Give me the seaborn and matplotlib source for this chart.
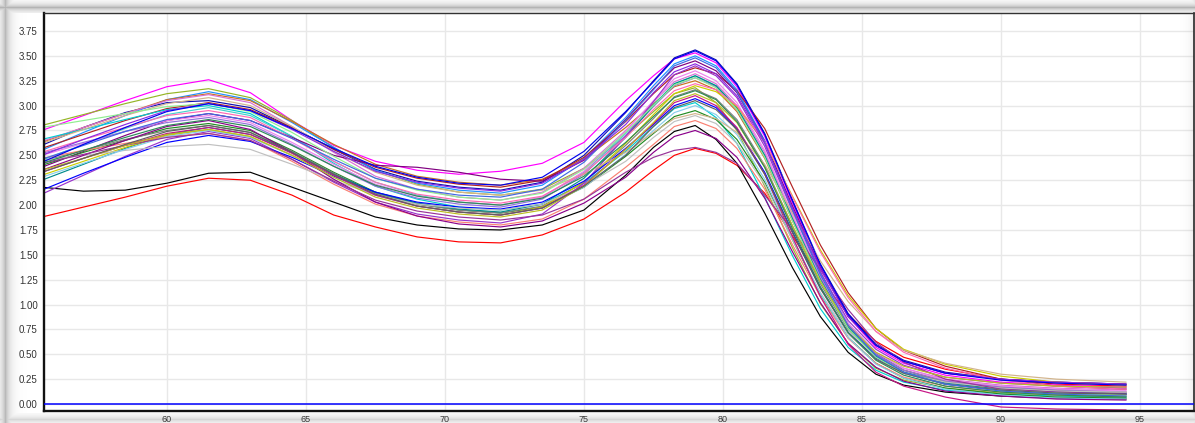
import numpy as np
import pandas as pd
import matplotlib
matplotlib.use("Agg")
import matplotlib.pyplot as plt
import seaborn as sns

# ---------------- data ----------------
temps = [55.5, 57, 58.5, 60, 61.5, 63, 64.5, 66, 67.5, 69, 70.5, 72, 73.5, 75, 76.5,
         77.5, 78.25, 79, 79.75, 80.5, 81.5, 82.5, 83.5, 84.5, 85.5, 86.5, 88, 90, 92, 94.5]

s_red = [1.88, 1.98, 2.08, 2.19, 2.27, 2.25, 2.10, 1.90, 1.78, 1.68, 1.63, 1.62, 1.70, 1.86, 2.13, 2.35, 2.50, 2.57, 2.52, 2.40, 2.12, 1.69, 1.26, 0.90, 0.63, 0.47, 0.35, 0.25, 0.20, 0.18]
s_black = [2.18, 2.14, 2.15, 2.22, 2.32, 2.33, 2.18, 2.03, 1.88, 1.80, 1.76, 1.75, 1.80, 1.95, 2.30, 2.58, 2.74, 2.80, 2.66, 2.42, 1.92, 1.37, 0.88, 0.52, 0.30, 0.19, 0.12, 0.08, 0.06, 0.05]
s_magenta = [2.75, 2.90, 3.05, 3.19, 3.26, 3.13, 2.85, 2.60, 2.44, 2.35, 2.31, 2.34, 2.42, 2.63, 3.05, 3.30, 3.47, 3.53, 3.43, 3.19, 2.69, 2.02, 1.38, 0.88, 0.57, 0.41, 0.29, 0.22, 0.19, 0.17]
s_olive = [2.80, 2.91, 3.02, 3.12, 3.17, 3.08, 2.85, 2.58, 2.35, 2.21, 2.13, 2.10, 2.16, 2.37, 2.69, 2.94, 3.12, 3.18, 3.03, 2.75, 2.19, 1.57, 1.01, 0.61, 0.36, 0.24, 0.16, 0.11, 0.09, 0.08]
s_darkblue = [2.60, 2.78, 2.93, 3.03, 3.05, 2.98, 2.78, 2.56, 2.36, 2.24, 2.18, 2.15, 2.23, 2.50, 2.93, 3.25, 3.48, 3.56, 3.46, 3.22, 2.72, 2.05, 1.41, 0.91, 0.60, 0.44, 0.32, 0.25, 0.22, 0.20]
s_dodger = [2.55, 2.73, 2.90, 3.06, 3.14, 3.06, 2.83, 2.58, 2.35, 2.22, 2.15, 2.12, 2.20, 2.47, 2.88, 3.20, 3.42, 3.50, 3.40, 3.16, 2.65, 1.97, 1.32, 0.81, 0.51, 0.34, 0.22, 0.15, 0.12, 0.10]
s_choco = [2.63, 2.78, 2.92, 3.06, 3.12, 3.05, 2.84, 2.61, 2.41, 2.29, 2.23, 2.20, 2.26, 2.46, 2.78, 3.02, 3.19, 3.25, 3.16, 2.94, 2.47, 1.84, 1.25, 0.78, 0.50, 0.34, 0.23, 0.17, 0.14, 0.12]
s_orchid = [2.64, 2.78, 2.92, 3.05, 3.11, 3.03, 2.79, 2.53, 2.29, 2.16, 2.08, 2.05, 2.13, 2.37, 2.75, 3.04, 3.24, 3.32, 3.22, 3.00, 2.53, 1.89, 1.28, 0.81, 0.52, 0.36, 0.25, 0.19, 0.16, 0.14]
s_firebrick = [2.57, 2.71, 2.85, 2.97, 3.03, 2.96, 2.78, 2.56, 2.38, 2.27, 2.21, 2.18, 2.25, 2.48, 2.84, 3.12, 3.31, 3.38, 3.32, 3.15, 2.77, 2.18, 1.60, 1.12, 0.76, 0.54, 0.38, 0.25, 0.18, 0.15]
s_turq = [2.66, 2.76, 2.86, 2.96, 3.00, 2.92, 2.69, 2.42, 2.19, 2.06, 1.98, 1.95, 2.01, 2.22, 2.54, 2.79, 2.97, 3.03, 2.88, 2.62, 2.08, 1.49, 0.96, 0.57, 0.34, 0.22, 0.14, 0.10, 0.08, 0.07]
s_medturq = [2.45, 2.61, 2.77, 2.91, 2.98, 2.90, 2.69, 2.44, 2.23, 2.10, 2.03, 2.00, 2.08, 2.33, 2.72, 3.01, 3.22, 3.30, 3.20, 2.98, 2.50, 1.86, 1.25, 0.76, 0.48, 0.31, 0.20, 0.14, 0.11, 0.09]
s_purple = [2.38, 2.54, 2.70, 2.85, 2.92, 2.85, 2.68, 2.50, 2.40, 2.38, 2.33, 2.26, 2.24, 2.45, 2.86, 3.17, 3.38, 3.45, 3.35, 3.13, 2.64, 1.99, 1.37, 0.88, 0.59, 0.43, 0.31, 0.25, 0.22, 0.20]
s_violet = [2.50, 2.62, 2.74, 2.85, 2.90, 2.83, 2.63, 2.41, 2.21, 2.09, 2.03, 2.00, 2.08, 2.34, 2.74, 3.05, 3.27, 3.35, 3.25, 3.03, 2.55, 1.90, 1.29, 0.81, 0.52, 0.36, 0.24, 0.18, 0.15, 0.13]
s_medpurple = [2.52, 2.63, 2.74, 2.83, 2.88, 2.81, 2.61, 2.39, 2.19, 2.07, 2.01, 1.98, 2.06, 2.31, 2.70, 2.99, 3.20, 3.28, 3.19, 2.96, 2.49, 1.86, 1.26, 0.78, 0.50, 0.34, 0.23, 0.17, 0.14, 0.12]
s_green = [2.40, 2.53, 2.65, 2.77, 2.82, 2.75, 2.55, 2.33, 2.13, 2.01, 1.95, 1.92, 1.98, 2.18, 2.49, 2.72, 2.89, 2.95, 2.86, 2.66, 2.23, 1.65, 1.10, 0.67, 0.41, 0.26, 0.16, 0.10, 0.07, 0.06]
s_gray = [2.44, 2.55, 2.66, 2.75, 2.80, 2.73, 2.54, 2.32, 2.12, 2.01, 1.95, 1.92, 1.99, 2.23, 2.60, 2.87, 3.09, 3.16, 3.07, 2.86, 2.40, 1.79, 1.21, 0.75, 0.48, 0.32, 0.22, 0.16, 0.13, 0.11]
s_teal = [2.25, 2.41, 2.57, 2.71, 2.78, 2.71, 2.53, 2.31, 2.13, 2.02, 1.96, 1.93, 2.01, 2.27, 2.68, 3.00, 3.22, 3.30, 3.20, 2.98, 2.50, 1.86, 1.25, 0.77, 0.48, 0.32, 0.21, 0.15, 0.12, 0.10]
s_yellow = [2.30, 2.44, 2.58, 2.70, 2.76, 2.69, 2.50, 2.29, 2.10, 1.99, 1.93, 1.90, 1.98, 2.23, 2.62, 2.91, 3.12, 3.20, 3.14, 2.99, 2.63, 2.09, 1.55, 1.09, 0.76, 0.55, 0.40, 0.28, 0.22, 0.19]
s_darkorchid = [2.11, 2.30, 2.49, 2.66, 2.74, 2.67, 2.46, 2.23, 2.03, 1.91, 1.85, 1.82, 1.91, 2.22, 2.69, 3.04, 3.31, 3.40, 3.30, 3.08, 2.59, 1.94, 1.33, 0.84, 0.55, 0.39, 0.27, 0.21, 0.18, 0.16]
s_salmon = [2.47, 2.55, 2.62, 2.69, 2.72, 2.65, 2.44, 2.21, 2.01, 1.89, 1.83, 1.80, 1.86, 2.06, 2.38, 2.61, 2.79, 2.85, 2.77, 2.57, 2.16, 1.60, 1.08, 0.66, 0.41, 0.27, 0.18, 0.12, 0.09, 0.08]
s_blue = [2.15, 2.32, 2.48, 2.63, 2.70, 2.64, 2.48, 2.29, 2.13, 2.03, 1.98, 1.96, 2.03, 2.24, 2.57, 2.81, 3.00, 3.07, 2.98, 2.77, 2.33, 1.73, 1.17, 0.72, 0.46, 0.31, 0.20, 0.14, 0.11, 0.10]
s_silver = [2.45, 2.50, 2.55, 2.59, 2.61, 2.56, 2.41, 2.25, 2.10, 2.01, 1.97, 1.95, 2.01, 2.19, 2.44, 2.68, 2.84, 2.90, 2.82, 2.62, 2.21, 1.65, 1.12, 0.70, 0.45, 0.31, 0.22, 0.16, 0.13, 0.12]
s_skyblue = [2.28, 2.42, 2.56, 2.69, 2.75, 2.68, 2.50, 2.28, 2.10, 1.99, 1.93, 1.90, 1.97, 2.18, 2.51, 2.75, 2.93, 3.00, 2.91, 2.71, 2.26, 1.67, 1.11, 0.67, 0.40, 0.26, 0.15, 0.09, 0.06, 0.05]
s_tan = [2.62, 2.76, 2.90, 3.02, 3.08, 3.00, 2.79, 2.54, 2.33, 2.20, 2.13, 2.10, 2.15, 2.31, 2.53, 2.73, 2.87, 2.92, 2.87, 2.73, 2.41, 1.92, 1.44, 1.03, 0.73, 0.54, 0.41, 0.30, 0.25, 0.22]
s_darkmagenta = [2.35, 2.50, 2.65, 2.79, 2.85, 2.76, 2.53, 2.26, 2.03, 1.89, 1.81, 1.78, 1.84, 2.02, 2.28, 2.53, 2.69, 2.75, 2.67, 2.48, 2.07, 1.53, 1.02, 0.61, 0.37, 0.23, 0.13, 0.08, 0.05, 0.04]
s_purplelow = [2.42, 2.51, 2.60, 2.68, 2.72, 2.65, 2.46, 2.24, 2.05, 1.94, 1.88, 1.85, 1.90, 2.06, 2.33, 2.48, 2.55, 2.58, 2.53, 2.42, 2.10, 1.75, 1.35, 0.95, 0.62, 0.42, 0.25, 0.15, 0.12, 0.10]
s_mvred = [2.33, 2.47, 2.60, 2.72, 2.78, 2.71, 2.52, 2.30, 2.10, 1.99, 1.93, 1.90, 1.97, 2.20, 2.56, 2.82, 3.03, 3.10, 3.00, 2.78, 2.31, 1.68, 1.08, 0.60, 0.32, 0.18, 0.07, -0.03, -0.05, -0.06]
s_lightgreen = [2.78, 2.85, 2.92, 2.99, 3.02, 2.94, 2.73, 2.49, 2.27, 2.15, 2.08, 2.05, 2.12, 2.36, 2.73, 3.00, 3.21, 3.28, 3.18, 2.96, 2.48, 1.84, 1.24, 0.76, 0.47, 0.31, 0.20, 0.14, 0.11, 0.09]
s_hotpink = [2.53, 2.66, 2.78, 2.90, 2.95, 2.88, 2.67, 2.44, 2.23, 2.11, 2.05, 2.02, 2.09, 2.32, 2.68, 2.96, 3.15, 3.22, 3.16, 3.00, 2.64, 2.08, 1.53, 1.07, 0.73, 0.52, 0.36, 0.24, 0.18, 0.15]
s_olive2 = [2.35, 2.47, 2.60, 2.71, 2.76, 2.69, 2.50, 2.28, 2.08, 1.97, 1.91, 1.88, 1.95, 2.19, 2.56, 2.83, 3.05, 3.12, 3.03, 2.83, 2.38, 1.79, 1.23, 0.79, 0.52, 0.38, 0.27, 0.21, 0.18, 0.17]
s_dimgray = [2.33, 2.47, 2.61, 2.74, 2.80, 2.73, 2.53, 2.31, 2.11, 1.99, 1.93, 1.90, 1.97, 2.19, 2.50, 2.79, 2.98, 3.05, 2.96, 2.76, 2.31, 1.72, 1.16, 0.72, 0.45, 0.31, 0.20, 0.14, 0.11, 0.10]
s_royal = [2.46, 2.60, 2.74, 2.86, 2.92, 2.85, 2.67, 2.46, 2.27, 2.16, 2.10, 2.08, 2.16, 2.43, 2.85, 3.16, 3.40, 3.48, 3.38, 3.14, 2.63, 1.95, 1.30, 0.79, 0.49, 0.32, 0.20, 0.13, 0.10, 0.08]
s_seagreen = [2.42, 2.55, 2.68, 2.80, 2.86, 2.79, 2.60, 2.39, 2.20, 2.09, 2.03, 2.00, 2.07, 2.29, 2.63, 2.89, 3.08, 3.15, 3.06, 2.84, 2.38, 1.76, 1.18, 0.72, 0.44, 0.29, 0.18, 0.12, 0.09, 0.07]
s_blueviolet = [2.50, 2.66, 2.81, 2.95, 3.02, 2.95, 2.76, 2.54, 2.34, 2.23, 2.17, 2.14, 2.22, 2.46, 2.81, 3.13, 3.34, 3.42, 3.32, 3.10, 2.62, 1.97, 1.36, 0.88, 0.59, 0.43, 0.31, 0.25, 0.22, 0.20]
s_blue2 = [2.43, 2.61, 2.78, 2.94, 3.02, 2.95, 2.77, 2.57, 2.39, 2.28, 2.22, 2.20, 2.28, 2.54, 2.94, 3.24, 3.47, 3.55, 3.45, 3.21, 2.71, 2.04, 1.40, 0.90, 0.59, 0.43, 0.31, 0.24, 0.21, 0.19]

series_names = ["red", "black", "magenta", "olive", "darkblue", "dodger", "choco", "orchid",
                "firebrick", "turq", "medturq", "purple", "violet", "medpurple", "green",
                "gray", "teal", "yellow", "darkorchid", "salmon", "blue", "silver", "skyblue",
                "tan", "darkmagenta", "purplelow", "mvred", "lightgreen", "hotpink", "olive2",
                "dimgray", "royal", "seagreen", "blueviolet", "blue2"]
series_values = [s_red, s_black, s_magenta, s_olive, s_darkblue, s_dodger, s_choco, s_orchid,
                 s_firebrick, s_turq, s_medturq, s_purple, s_violet, s_medpurple, s_green,
                 s_gray, s_teal, s_yellow, s_darkorchid, s_salmon, s_blue, s_silver, s_skyblue,
                 s_tan, s_darkmagenta, s_purplelow, s_mvred, s_lightgreen, s_hotpink, s_olive2,
                 s_dimgray, s_royal, s_seagreen, s_blueviolet, s_blue2]
x_ticks = [60, 65, 70, 75, 80, 85, 90, 95]
y_ticks = [0.00, 0.25, 0.50, 0.75, 1.00, 1.25, 1.50, 1.75, 2.00, 2.25, 2.50, 2.75, 3.00, 3.25, 3.50, 3.75]

# ---------------- style ----------------
line_colors = ["#ff0000", "#000000", "#ff00ff", "#95b526", "#1010b0", "#1e90ff", "#c87020",
               "#da70d6", "#b22222", "#00ced1", "#48d1cc", "#800080", "#ee82ee", "#9370db",
               "#228b22", "#808080", "#008b8b", "#cccc00", "#9932cc", "#fa8072", "#0000ff",
               "#c0c0c0", "#87ceeb", "#d2b48c", "#8b008b", "#993399", "#c71585", "#90ee90",
               "#ff69b4", "#bcbd22", "#606060", "#4169e1", "#2e8b57", "#8a2be2", "#0000ee"]

rows = []
for name, vals in zip(series_names, series_values):
    for t, v in zip(temps, vals):
        rows.append((name, t, v))
df = pd.DataFrame(rows, columns=["sample", "temp", "value"])

sns.set_style("white")
plt.rcParams['font.family'] = ['Liberation Sans', 'DejaVu Sans']

W, H = 1195, 423
fig = plt.figure(figsize=(W / 100, H / 100), dpi=100)
ax = fig.add_axes([44 / W, 1 - 411 / H, (1194 - 44) / W, (411 - 13) / H])

sns.lineplot(data=df, x="temp", y="value", hue="sample", hue_order=series_names,
             palette=dict(zip(series_names, line_colors)), estimator=None, sort=False,
             linewidth=0.85, legend=False, ax=ax)
ax.axhline(0, color="#0000ff", lw=1.1, zorder=3)

ax.set_xlim(55.58, 96.94)
ax.set_ylim(-0.070, 3.931)
ax.set_xticks(x_ticks)
ax.set_yticks(y_ticks)
ax.set_yticklabels([f"{v:.2f}" for v in y_ticks])
ax.set_xlabel("")
ax.set_ylabel("")
ax.grid(True, color="#e8e8e8", lw=1.0)
ax.set_axisbelow(True)
ax.tick_params(axis="y", direction="out", length=3, width=0.6, color="#555555",
               labelsize=7, labelcolor="#333333", pad=1.5)
ax.tick_params(axis="x", direction="out", length=2.2, width=0.6, color="#555555",
               labelsize=6.5, labelcolor="#333333", pad=0.6)
for side in ["left", "bottom"]:
    ax.spines[side].set_linewidth(1.7)
    ax.spines[side].set_color("#111111")
ax.spines["top"].set_linewidth(1.0)
ax.spines["top"].set_color("#333333")
ax.spines["right"].set_linewidth(1.2)
ax.spines["right"].set_color("#222222")

# frame shadow overlay
yy, xx = np.mgrid[0:H, 0:W].astype(float)
a_left = 0.42 * np.exp(-np.abs(xx - 5) / 4.5)
a_top = 0.45 * np.exp(-np.abs(yy - 7) / 3.5) * (yy < 13)
a_bot = 0.25 * np.exp(-np.abs(yy - 419) / 3.5) * (yy > 412)
a_right = 0.15 * np.exp(-(W - 1 - xx) / 4.0)
alpha = np.clip(np.maximum.reduce([a_left, a_top, a_bot, a_right]), 0, 1)
img = np.zeros((H, W, 4))
img[..., :3] = 0.35
img[..., 3] = alpha
fig.figimage(img, xo=0, yo=0, origin="upper", zorder=10)

fig.savefig("out.png", dpi=100)
